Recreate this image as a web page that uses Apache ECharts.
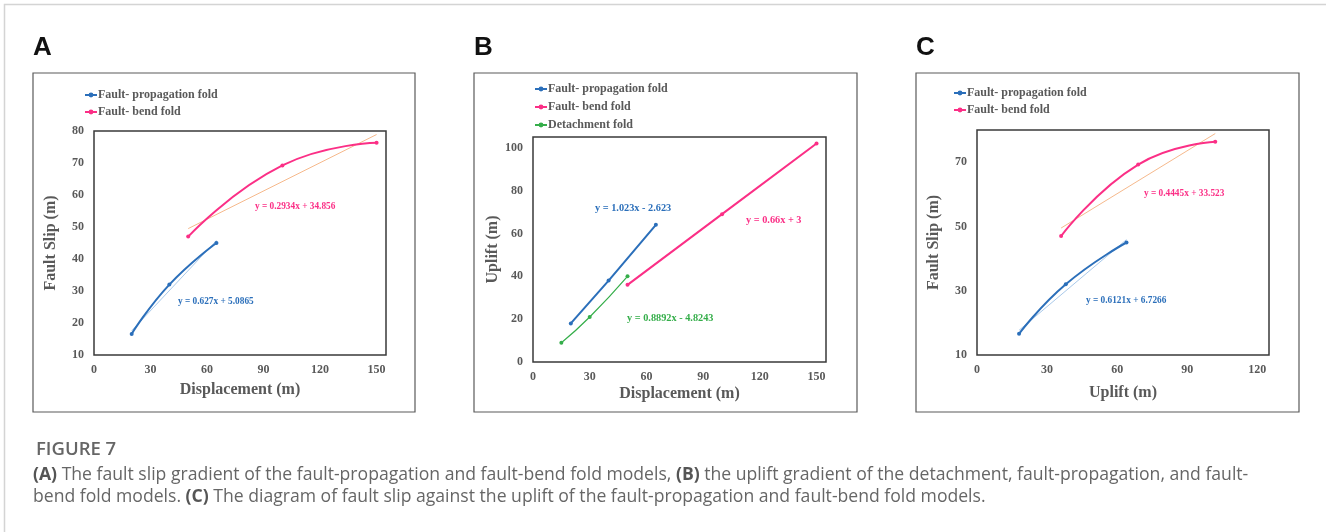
<!DOCTYPE html>
<html><head><meta charset="utf-8">
<script src="https://cdn.jsdelivr.net/npm/echarts@6/dist/echarts.min.js"></script>
<style>html,body{margin:0;padding:0;background:#fff;overflow:hidden}#c{width:1326px;height:532px}</style>
</head><body><div id="c"></div>
<script>
// ---------- data ----------
const seriesNames = ['Fault- propagation fold', 'Fault- bend fold', 'Detachment fold'];
// Panel A: fault slip vs displacement
const aPropX = [20, 40, 65];
const aPropY = [16.6, 32, 45];
const aBendX = [50, 100, 150];
const aBendY = [47, 69.25, 76.34];
const aPropTrend = [[20, 17.6], [65, 45.8]];
const aBendTrend = [[50, 49.5], [150, 78.9]];
// Panel B: uplift vs displacement
const bPropX = [20, 40, 65];
const bPropY = [18, 38, 64];
const bBendX = [50, 100, 150];
const bBendY = [36, 69, 102];
const bDetX = [15, 30, 50];
const bDetY = [9, 21, 40];
// Panel C: fault slip vs uplift
const cPropX = [18, 38, 64];
const cPropY = [16.6, 32, 45];
const cBendX = [36, 69, 102];
const cBendY = [47, 69.25, 76.34];
const cPropTrend = [[18, 17.7], [64, 45.9]];
const cBendTrend = [[36, 49.5], [102, 78.9]];
// tick labels
const aXTicks = [0, 30, 60, 90, 120, 150];
const aYTicks = [10, 20, 30, 40, 50, 60, 70, 80];
const bXTicks = [0, 30, 60, 90, 120, 150];
const bYTicks = [0, 20, 40, 60, 80, 100];
const cXTicks = [0, 30, 60, 90, 120];
const cYTicks = [10, 30, 50, 70];
// equations
const eqA = ['y = 0.627x + 5.0865', 'y = 0.2934x + 34.856'];
const eqB = ['y = 1.023x - 2.623', 'y = 0.66x + 3', 'y = 0.8892x - 4.8243'];
const eqC = ['y = 0.6121x + 6.7266', 'y = 0.4445x + 33.523'];
const panelLetters = ['A', 'B', 'C'];
const captionTitle = 'FIGURE 7';

// ---------- styles ----------
const BLUE = '#2b6fba', PINK = '#fb2f86', GREEN = '#35ae4a';
const BLUE_T = '#a9c9ea', ORANGE_T = '#f6b98c';
const SERIF = '"Liberation Serif","Times New Roman",serif';
const GRAY = '#595959';

const zip = (xs, ys) => xs.map((x, i) => [x, ys[i]]);
const fmt = ticks => v => ticks.includes(Math.round(v * 1000) / 1000) ? String(v) : '';

function xAxis(idx, max, ticks, name, gap) {
  return {
    type: 'value', gridIndex: idx, min: 0, max: max, interval: 30,
    name: name, nameLocation: 'middle', nameGap: gap,
    nameTextStyle: {fontFamily: SERIF, fontWeight: 'bold', fontSize: 16, color: GRAY},
    axisLine: {show: false}, axisTick: {show: false}, splitLine: {show: false},
    axisLabel: {formatter: fmt(ticks), fontFamily: SERIF, fontWeight: 'bold', fontSize: 12, color: GRAY, margin: 9}
  };
}
function yAxis(idx, min, max, interval, ticks, name, gap) {
  return {
    type: 'value', gridIndex: idx, min: min, max: max, interval: interval,
    name: name, nameLocation: 'middle', nameGap: gap, nameRotate: 90,
    nameTextStyle: {fontFamily: SERIF, fontWeight: 'bold', fontSize: 16, color: GRAY},
    axisLine: {show: false}, axisTick: {show: false}, splitLine: {show: false},
    axisLabel: {formatter: fmt(ticks), fontFamily: SERIF, fontWeight: 'bold', fontSize: 12, color: GRAY, margin: 10}
  };
}
function mainSeries(name, idx, data, color, smooth, width) {
  return {
    type: 'line', name: name, xAxisIndex: idx, yAxisIndex: idx, data: data,
    smooth: smooth, symbol: 'circle', symbolSize: 4,
    lineStyle: {color: color, width: width || 2}, itemStyle: {color: color}, z: 3
  };
}
function trend(name, idx, data, color) {
  return {
    type: 'line', name: name, xAxisIndex: idx, yAxisIndex: idx, data: data,
    symbol: 'none', lineStyle: {color: color, width: 1}, z: 2, silent: true
  };
}
function legend(left, top, names, gap) {
  return {
    left: left, top: top, orient: 'vertical', data: names, itemGap: gap,
    itemWidth: 12, itemHeight: 6, padding: 0, selectedMode: false,
    textStyle: {fontFamily: SERIF, fontWeight: 'bold', fontSize: 12, color: GRAY, lineHeight: 14, padding: [0, 0, 0, -4]}
  };
}
function eqText(x, y, text, color, size) {
  return {type: 'text', x: x, y: y, style: {text: text, fill: color, font: 'bold ' + size + 'px ' + SERIF, textVerticalAlign: 'middle'}};
}
function box(x, y, w, h) {
  return {type: 'rect', shape: {x: x, y: y, width: w, height: h}, style: {fill: 'none', stroke: '#5a5a5a', lineWidth: 1.2}, z: -1};
}
function letter(x, t) {
  return {type: 'text', x: x, y: 48, style: {text: t, fill: '#111', font: 'bold 26px "Liberation Sans", Arial, sans-serif', textVerticalAlign: 'middle'}};
}

const chart = echarts.init(document.getElementById('c'), null, {renderer: 'canvas'});
const gridStyle = {show: true, borderColor: '#3a3a3a', borderWidth: 1.5, backgroundColor: 'transparent'};

const CAP = '"Open Sans", "Noto Sans", sans-serif';
const CAPSIZE = 17.6;
const option = {
  animation: false,
  backgroundColor: '#fff',
  grid: [
    Object.assign({left: 94, top: 131, width: 292, height: 224}, gridStyle),
    Object.assign({left: 533, top: 137, width: 293, height: 225}, gridStyle),
    Object.assign({left: 977, top: 130, width: 292, height: 225}, gridStyle)
  ],
  xAxis: [
    xAxis(0, 155, aXTicks, 'Displacement (m)', 27),
    xAxis(1, 155, bXTicks, 'Displacement (m)', 24),
    xAxis(2, 125, cXTicks, 'Uplift (m)', 30)
  ],
  yAxis: [
    yAxis(0, 10, 80, 10, aYTicks, 'Fault Slip (m)', 35),
    yAxis(1, 0, 105, 20, bYTicks, 'Uplift (m)', 31),
    yAxis(2, 10, 80, 10, cYTicks, 'Fault Slip (m)', 35)
  ],
  legend: [
    legend(84, 88, seriesNames.slice(0, 2), 3),
    legend(534, 82, seriesNames.slice(0, 3), 4),
    legend(953, 86, seriesNames.slice(0, 2), 3)
  ],
  series: [
    trend('tA1', 0, aPropTrend, BLUE_T),
    trend('tA2', 0, aBendTrend, ORANGE_T),
    mainSeries(seriesNames[0], 0, zip(aPropX, aPropY), BLUE, true),
    mainSeries(seriesNames[1], 0, zip(aBendX, aBendY), PINK, true),
    mainSeries(seriesNames[0], 1, zip(bPropX, bPropY), BLUE, false),
    mainSeries(seriesNames[1], 1, zip(bBendX, bBendY), PINK, false),
    mainSeries(seriesNames[2], 1, zip(bDetX, bDetY), GREEN, true, 1.2),
    trend('tC1', 2, cPropTrend, BLUE_T),
    trend('tC2', 2, cBendTrend, ORANGE_T),
    mainSeries(seriesNames[0], 2, zip(cPropX, cPropY), BLUE, true),
    mainSeries(seriesNames[1], 2, zip(cBendX, cBendY), PINK, true)
  ],
  graphic: [
    {type: 'rect', shape: {x: 4.5, y: 4.5, width: 1400, height: 600}, style: {fill: 'none', stroke: '#d4d4d4', lineWidth: 1.5}, z: -2},
    box(33, 73, 382, 339), box(474, 73, 383, 339), box(916, 73, 383, 339),
    letter(33, panelLetters[0]), letter(474, panelLetters[1]), letter(916, panelLetters[2]),
    eqText(178, 302, eqA[0], BLUE, 9.3), eqText(255, 207, eqA[1], PINK, 9.3),
    eqText(595, 208, eqB[0], BLUE, 10.3), eqText(746, 220, eqB[1], PINK, 10.3), eqText(627, 318, eqB[2], GREEN, 10.3),
    eqText(1086, 301, eqC[0], BLUE, 9.3), eqText(1144, 194, eqC[1], PINK, 9.3),
    {type: 'text', x: 36, y: 450, style: {text: captionTitle, fill: '#666', font: '600 18.5px ' + CAP, textVerticalAlign: 'middle'}},
    {type: 'text', x: 33, y: 475, style: {
      text: '{b|(A)} The fault slip gradient of the fault-propagation and fault-bend fold models, {b|(B)} the uplift gradient of the detachment, fault-propagation, and fault-',
      fill: '#666', font: CAPSIZE + 'px ' + CAP, textVerticalAlign: 'middle',
      rich: {b: {fontWeight: 'bold', fontFamily: CAP, fontSize: CAPSIZE, fill: '#555', color: '#555'}}
    }},
    {type: 'text', x: 33, y: 497, style: {
      text: 'bend fold models. {b|(C)} The diagram of fault slip against the uplift of the fault-propagation and fault-bend fold models.',
      fill: '#666', font: CAPSIZE + 'px ' + CAP, textVerticalAlign: 'middle',
      rich: {b: {fontWeight: 'bold', fontFamily: CAP, fontSize: CAPSIZE, fill: '#555', color: '#555'}}
    }}
  ]
};
chart.setOption(option);
</script></body></html>
